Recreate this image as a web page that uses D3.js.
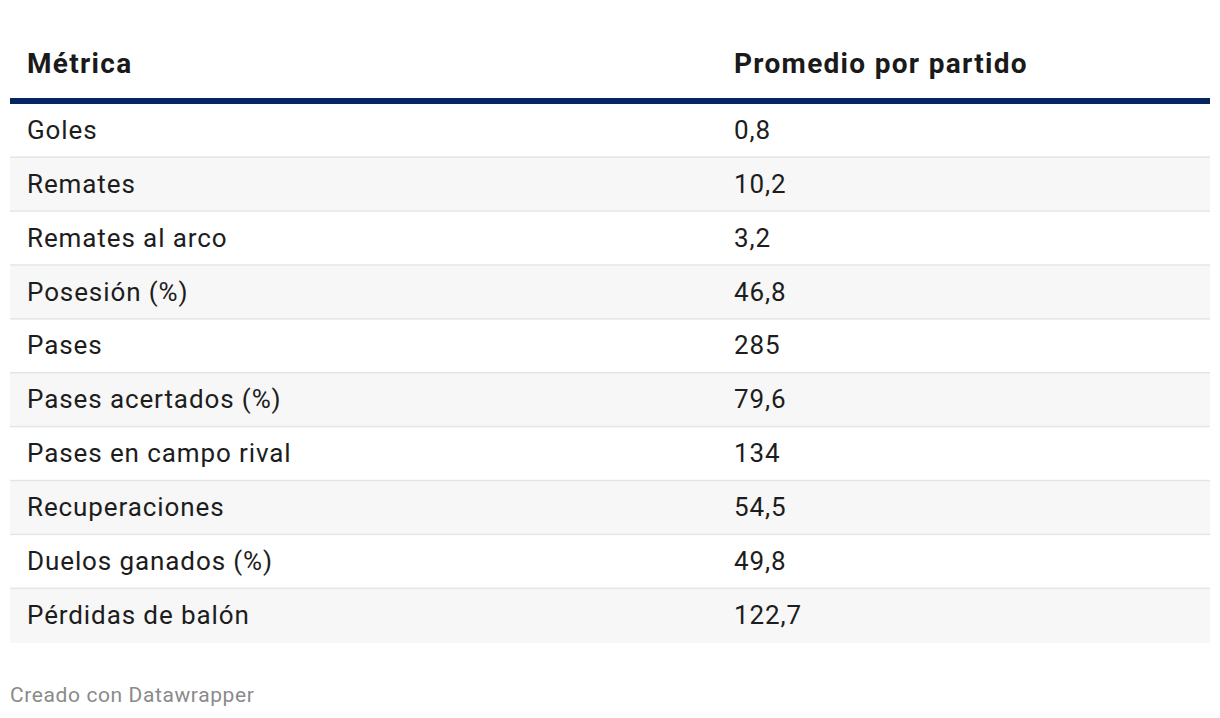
<!DOCTYPE html>
<html>
<head>
<meta charset="utf-8">
<script src="https://cdn.jsdelivr.net/npm/d3@7"></script>
<style>
  body { margin: 0; background: #fff; }
  svg { display: block; font-family: Roboto, "Noto Sans", sans-serif; }
</style>
</head>
<body>
<svg id="chart" width="1220" height="718"></svg>
<script>
// table data
const columns = ["Métrica", "Promedio por partido"];
const metrics = ["Goles", "Remates", "Remates al arco", "Posesión (%)", "Pases",
  "Pases acertados (%)", "Pases en campo rival", "Recuperaciones",
  "Duelos ganados (%)", "Pérdidas de balón"];
const values = [0.8, 10.2, 3.2, 46.8, 285, 79.6, 134, 54.5, 49.8, 122.7];
const footer = "Creado con Datawrapper";

const left = 10, right = 1210;
const rowTop = 104, rowBottom = 643;

const svg = d3.select("#chart");

// spanish-style number formatting (decimal comma)
const esLocale = d3.formatLocale({ decimal: ",", thousands: ".", grouping: [3], currency: ["", "€"] });
const fmt = v => Number.isInteger(v) ? esLocale.format("d")(v) : esLocale.format(".1f")(v);

const x = d3.scaleOrdinal().domain(columns).range([27, 734]);
const y = d3.scaleBand().domain(d3.range(metrics.length)).range([rowTop, rowBottom]).padding(0);

// header
svg.selectAll("text.head")
  .data(columns)
  .join("text")
  .attr("class", "head")
  .attr("x", d => x(d))
  .attr("y", 66)
  .attr("dominant-baseline", "middle")
  .attr("font-size", 28)
  .attr("letter-spacing", 1.3)
  .attr("font-weight", 700)
  .attr("fill", "#1a1a1a")
  .text(d => d);

// rows
const rows = svg.selectAll("g.row")
  .data(metrics.map((m, i) => ({ metric: m, value: values[i], i })))
  .join("g")
  .attr("class", "row")
  .attr("transform", d => `translate(0,${y(d.i)})`);

rows.append("rect")
  .attr("x", left)
  .attr("width", right - left)
  .attr("height", y.bandwidth())
  .attr("fill", d => d.i % 2 ? "#f7f7f7" : "#ffffff");

rows.filter(d => d.i < metrics.length - 1)
  .append("rect")
  .attr("x", left)
  .attr("y", y.bandwidth() - 1.5)
  .attr("width", right - left)
  .attr("height", 2)
  .attr("fill", "#e5e5e5");

rows.append("text")
  .attr("x", x(columns[0]))
  .attr("y", y.bandwidth() / 2 + 1)
  .attr("dominant-baseline", "middle")
  .attr("font-size", 26)
  .attr("letter-spacing", 0.9)
  .attr("fill", "#1d1d1d")
  .text(d => d.metric);

rows.append("text")
  .attr("x", x(columns[1]))
  .attr("y", y.bandwidth() / 2 + 1)
  .attr("dominant-baseline", "middle")
  .attr("font-size", 26)
  .attr("letter-spacing", 0.9)
  .attr("fill", "#1d1d1d")
  .text(d => fmt(d.value));

// navy rule under header
svg.append("rect")
  .attr("x", left)
  .attr("y", 98)
  .attr("width", right - left)
  .attr("height", 6)
  .attr("fill", "#062461");

// footer
svg.append("text")
  .attr("x", 10)
  .attr("y", 696)
  .attr("dominant-baseline", "middle")
  .attr("font-size", 21)
  .attr("letter-spacing", 0.6)
  .attr("fill", "#8a8a8a")
  .text(footer);
</script>
</body>
</html>
